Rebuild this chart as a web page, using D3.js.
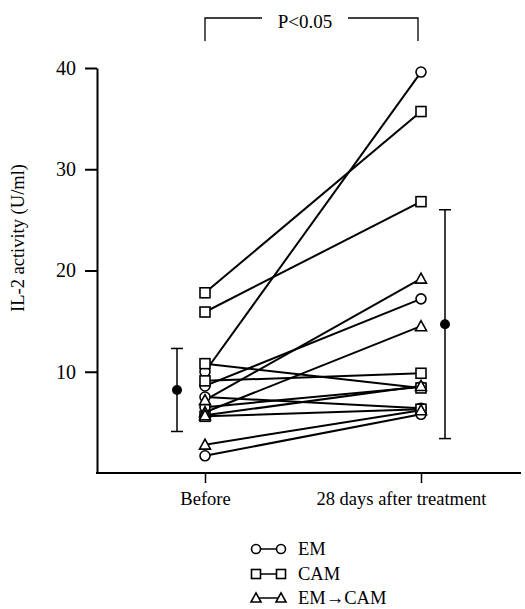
<!DOCTYPE html>
<html>
<head>
<meta charset="utf-8">
<script src="https://cdn.jsdelivr.net/npm/d3@7/dist/d3.min.js"></script>
<style>
  html, body { margin: 0; padding: 0; background: #fff; }
  svg { display: block; font-family: "Liberation Serif", "Times New Roman", serif; }
</style>
</head>
<body>
<svg id="chart" width="525" height="609"></svg>
<script>
// Time points
const timepoints = ["Before", "28 days after treatment"];

// IL-2 activity (U/ml) per patient: [before, after]
const emValues = [[10.0, 39.6], [8.6, 17.2], [7.5, 6.4], [6.5, 8.5], [1.7, 5.8]];
const camValues = [[17.8, 35.7], [15.9, 26.8], [10.8, 8.4], [9.1, 9.85], [5.6, 6.3]];
const emCamValues = [[7.2, 19.2], [6.0, 14.5], [5.7, 8.6], [2.8, 6.2]];

// Group mean and SD at each time point
const groupMean = [8.2, 14.7];
const groupSD = [4.1, 11.3];

const yTicks = [10, 20, 30, 40];
const legendLabels = ["EM", "CAM", "EM\u2192CAM"];

const svg = d3.select("#chart");

const y = d3.scaleLinear().domain([0, 40]).range([473, 68]);
const x = d3.scalePoint().domain(timepoints).range([205, 421]);

// Y axis
const yAxis = d3.axisLeft(y).tickValues(yTicks).tickSize(12).tickSizeOuter(0).tickPadding(9);
const gy = svg.append("g").attr("transform", "translate(97,0)").call(yAxis);
gy.select(".domain").attr("stroke", "#000").attr("stroke-width", 2);
gy.selectAll(".tick line").attr("stroke", "#000").attr("stroke-width", 2);
gy.selectAll(".tick text").attr("font-size", 20).attr("fill", "#000")
  .attr("font-family", "Liberation Serif");

// X axis
svg.append("line").attr("x1", 96).attr("x2", 521).attr("y1", 473).attr("y2", 473)
  .attr("stroke", "#000").attr("stroke-width", 2);
const xAxis = d3.axisBottom(x).tickSize(10).tickPadding(9);
const gx = svg.append("g").attr("transform", "translate(0,473)").call(xAxis);
gx.select(".domain").remove();
gx.selectAll(".tick line").attr("stroke", "#000").attr("stroke-width", 1.5);
gx.selectAll(".tick text").attr("font-size", 18.5).attr("fill", "#000")
  .attr("font-family", "Liberation Serif")
  .attr("dx", (d, i) => i === 1 ? -20 : 0);

// Y axis title
svg.append("text")
  .attr("transform", "translate(24,238) rotate(-90)")
  .attr("text-anchor", "middle")
  .attr("font-size", 18.5)
  .text("IL-2 activity (U/ml)");

// Significance bracket
const bx0 = x(timepoints[0]), bx1 = x(timepoints[1]) - 3, by = 18;
const bracket = svg.append("g").attr("stroke", "#000").attr("stroke-width", 1.3).attr("fill", "none");
bracket.append("path").attr("d", `M${bx0},41 V${by} H262`);
bracket.append("path").attr("d", `M348,${by} H${bx1} V41`);
svg.append("text").attr("x", 305).attr("y", 28).attr("text-anchor", "middle")
  .attr("font-size", 19).text("P<0.05");

// Patient lines and markers
const groups = [
  { data: emValues, shape: "circle" },
  { data: camValues, shape: "square" },
  { data: emCamValues, shape: "triangle" }
];

const lineGen = d3.line().x((d, i) => x(timepoints[i])).y(d => y(d));
const plot = svg.append("g");

groups.forEach(g => {
  plot.selectAll(null).data(g.data).enter().append("path")
    .attr("d", d => lineGen(d))
    .attr("stroke", "#000").attr("stroke-width", 2).attr("fill", "none");
});

function drawMarker(sel, shape, cx, cy, size) {
  if (shape === "circle") {
    sel.append("circle").attr("cx", cx).attr("cy", cy).attr("r", size / 2)
      .attr("fill", "#fff").attr("stroke", "#000").attr("stroke-width", 1.6);
  } else if (shape === "square") {
    sel.append("rect").attr("x", cx - size / 2).attr("y", cy - size / 2)
      .attr("width", size).attr("height", size)
      .attr("fill", "#fff").attr("stroke", "#000").attr("stroke-width", 1.6);
  } else {
    const h = size * 0.9;
    sel.append("path")
      .attr("d", `M${cx},${cy - h / 2 - 1} L${cx + size / 2 + 0.5},${cy + h / 2} L${cx - size / 2 - 0.5},${cy + h / 2} Z`)
      .attr("fill", "#fff").attr("stroke", "#000").attr("stroke-width", 1.6);
  }
}

groups.forEach(g => {
  g.data.forEach(d => {
    d.forEach((v, i) => drawMarker(plot, g.shape, x(timepoints[i]), y(v), 10));
  });
});

// Mean ± SD markers
const sdX = [177, 445];
groupMean.forEach((m, i) => {
  const gm = svg.append("g");
  gm.append("line").attr("x1", sdX[i]).attr("x2", sdX[i])
    .attr("y1", y(m - groupSD[i])).attr("y2", y(m + groupSD[i]))
    .attr("stroke", "#000").attr("stroke-width", 1.5);
  [m - groupSD[i], m + groupSD[i]].forEach(v => {
    gm.append("line").attr("x1", sdX[i] - 6).attr("x2", sdX[i] + 6)
      .attr("y1", y(v)).attr("y2", y(v)).attr("stroke", "#000").attr("stroke-width", 1.5);
  });
  gm.append("circle").attr("cx", sdX[i]).attr("cy", y(m)).attr("r", 5).attr("fill", "#000");
});

// Legend
const legendY = [549, 574, 598];
const legendShapes = ["circle", "square", "triangle"];
legendLabels.forEach((lab, i) => {
  const lg = svg.append("g");
  lg.append("line").attr("x1", 256).attr("x2", 281).attr("y1", legendY[i]).attr("y2", legendY[i])
    .attr("stroke", "#000").attr("stroke-width", 1.5);
  drawMarker(lg, legendShapes[i], 256, legendY[i], 9);
  drawMarker(lg, legendShapes[i], 281, legendY[i], 9);
  lg.append("text").attr("x", 298).attr("y", legendY[i] + 6).attr("font-size", 18.5).text(lab);
});
</script>
</body>
</html>
